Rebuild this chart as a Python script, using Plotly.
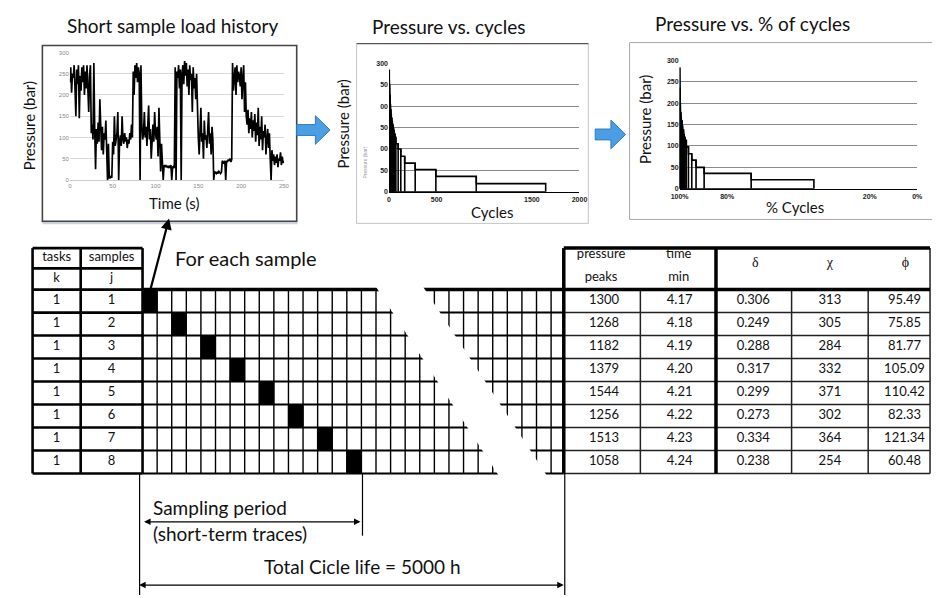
import plotly.graph_objects as go

W, H = 940, 598
FONT = "Lato"

# ---------------- data ----------------
# Short sample load history: pressure (bar) sampled once per second, 0..250 s
load_time_s = list(range(251))
load_pressure_bar = [
    230, 265, 205, 250, 240, 270, 215, 150, 260, 225,
    270, 145, 245, 210, 265, 230, 270, 200, 255, 215,
    270, 225, 160, 245, 270, 110, 130, 95, 275, 120,
    25, 120, 85, 135, 90, 190, 100, 70, 125, 60,
    110, 95, 140, 40, 0, 85, 5, 5, 8, 5,
    90, 60, 150, 80, 95, 110, 160, 0, 90, 105,
    80, 150, 95, 85, 110, 90, 100, 75, 95, 85,
    110, 95, 130, 100, 255, 200, 270, 240, 275, 230,
    265, 250, 0, 270, 130, 95, 110, 160, 100, 125,
    80, 115, 175, 95, 120, 50, 105, 130, 90, 160,
    110, 95, 125, 55, 170, 100, 20, 85, 10, 0,
    35, 30, 35, 30, 33, 28, 32, 30, 35, 0,
    30, 32, 28, 265, 0, 255, 240, 270, 215, 260,
    0, 250, 270, 225, 280, 245, 275, 220, 260, 200,
    270, 235, 250, 160, 265, 215, 240, 190, 250, 130,
    100, 60, 125, 170, 90, 110, 50, 140, 95, 105,
    75, 120, 160, 85, 110, 60, 125, 95, 0, 20,
    18, 15, 18, 15, 20, 18, 15, 18, 45, 42,
    40, 45, 0, 45, 42, 48, 45, 50, 42, 48,
    275, 210, 250, 265, 200, 270, 230, 255, 245, 220,
    265, 190, 240, 270, 160, 230, 150, 130, 165, 110,
    145, 120, 160, 100, 140, 115, 155, 90, 135, 105,
    170, 80, 125, 95, 150, 70, 115, 100, 130, 60,
    95, 120, 75, 110, 50, 0, 70, 45, 60, 35,
    55, 40, 60, 30, 50, 45, 65, 35, 55, 40,
    45,
]

# Pressure vs. cycles (cumulative cycle count reached at each pressure level)
cycles_count = [3, 7, 11, 15, 19, 24, 29, 35, 41, 48, 55, 63, 72, 96, 124, 165, 275, 492, 916, 1645]
cycles_pressure = [285, 250, 225, 205, 192, 182, 172, 165, 157, 150, 143, 135, 127, 112, 100, 83, 67, 52, 36, 19]

# Pressure vs. % of cycles
pct_cycles = [99.95, 99.85, 99.7, 99.5, 99.3, 99.0, 98.75, 98.4, 98.1, 97.7, 97.2, 96.3, 94.9, 93.1, 89.7, 69.9, 43.5]
pct_pressure = [283, 236, 201, 178, 165, 159, 148, 138, 128, 120, 113, 98, 82, 67, 50, 36, 21]

# Sample table
tasks_k = [1, 1, 1, 1, 1, 1, 1, 1]
samples_j = [1, 2, 3, 4, 5, 6, 7, 8]
pressure_peaks = [1300, 1268, 1182, 1379, 1544, 1256, 1513, 1058]
time_min = ["4.17", "4.18", "4.19", "4.20", "4.21", "4.22", "4.23", "4.24"]
delta_vals = ["0.306", "0.249", "0.288", "0.317", "0.299", "0.273", "0.334", "0.238"]
chi_vals = [313, 305, 284, 332, 371, 302, 364, 254]
phi_vals = ["95.49", "75.85", "81.77", "105.09", "110.42", "82.33", "121.34", "60.48"]

cycle_ticks = [0, 500, 1500, 2000]
pct_ticks = [100, 80, 20, 0]
pct_tick_text = ["100%", "80%", "20%", "0%"]
p_ticks = [0, 50, 100, 150, 200, 250, 300]
p_tick_text_mid = ["0", "50", "00", "50", "00", "50", "300"]


def staircase(xs, ps, base):
    """Outline of nested rectangles [base, x_i] x [0, p_i] with their inner edges."""
    X = [base, base, xs[0]]
    Y = [0, ps[0], ps[0]]
    for i in range(1, len(xs)):
        X += [xs[i - 1], xs[i]]
        Y += [ps[i], ps[i]]
    X += [xs[-1], base, None]
    Y += [0, 0, None]
    for x, p in zip(xs[:-1], ps[:-1]):
        X += [x, x, None]
        Y += [0, p, None]
    return X, Y


def segs(lines):
    X, Y = [], []
    for (x0, y0, x1, y1) in lines:
        X += [x0, x1, None]
        Y += [y0, y1, None]
    return X, Y


fig = go.Figure()

# ---------------- diagram layer (pixel-like axis) ----------------
GX0, GW, NCOL, GX1 = 136, 14.86, 28, 565
GY0, RH, NROW = 289, 23.25, 8
col_x = [GX0 + k * GW for k in range(NCOL + 1)]
row_y = [GY0 + r * RH for r in range(NROW + 1)]
row_c = [GY0 + (r + 0.5) * RH for r in range(NROW)]

# black cells marking each sample along the life time
bx, by = [], []
for j in samples_j:
    c = 2 * (j - 1)
    x0, x1 = col_x[c], col_x[c + 1]
    y0, y1 = row_y[j - 1], row_y[j]
    bx += [x0, x1, x1, x0, x0, None]
    by += [y0, y0, y1, y1, y0, None]
fig.add_trace(go.Scatter(x=bx, y=by, mode="lines", fill="toself", fillcolor="black",
                         line=dict(color="black", width=1), hoverinfo="skip"))

vx, vy = segs([(col_x[k], GY0, col_x[k], row_y[-1]) for k in range(1, NCOL + 1)])
fig.add_trace(go.Scatter(x=vx, y=vy, mode="lines", line=dict(color="black", width=1.4), hoverinfo="skip"))
hx, hy = segs([(GX0, row_y[r], GX1, row_y[r]) for r in range(1, NROW + 1)])
fig.add_trace(go.Scatter(x=hx, y=hy, mode="lines", line=dict(color="black", width=2), hoverinfo="skip"))
tx, ty = segs([(GX0, GY0, GX1, GY0)])
fig.add_trace(go.Scatter(x=tx, y=ty, mode="lines", line=dict(color="black", width=3.5), hoverinfo="skip"))

# diagonal break in the time axis
fig.add_trace(go.Scatter(x=[373, 421, 549, 500, 373], y=[285, 285, 479, 479, 285], mode="lines",
                         fill="toself", fillcolor="white", line=dict(color="white", width=0),
                         hoverinfo="skip"))

# left table (tasks / samples)
lt_h = [247, 267.5] + row_y
lx, ly = segs([(24, y, GX0, y) for y in lt_h] + [(x, 247, x, row_y[-1]) for x in (24, 73, GX0)])
fig.add_trace(go.Scatter(x=lx, y=ly, mode="lines", line=dict(color="black", width=2.6), hoverinfo="skip"))

# right table
RT = [GX1, 643, 720, 797, 875, 938]
rx, ry = segs([(GX1, y, RT[-1], y) for y in row_y[1:]] +
              [(x, GY0, x, row_y[-1]) for x in (643, 797, 875)] +
              [(RT[-1], 247, RT[-1], row_y[-1])])
fig.add_trace(go.Scatter(x=rx, y=ry, mode="lines", line=dict(color="#222", width=1.5), hoverinfo="skip"))
kx, ky = segs([(GX1, 247, RT[-1], 247), (GX1, GY0, RT[-1], GY0), (720, 247, 720, row_y[-1]),
               (GX1, 247, GX1, row_y[-1])])
fig.add_trace(go.Scatter(x=kx, y=ky, mode="lines", line=dict(color="black", width=3.5), hoverinfo="skip"))

# dimension lines below the grid
dx, dy = segs([(133, row_y[-1], 133, 598), (360, row_y[-1], 360, 538), (566, row_y[-1], 566, 598)])
fig.add_trace(go.Scatter(x=dx, y=dy, mode="lines", line=dict(color="black", width=1.2), hoverinfo="skip"))

# table text
tf = dict(family=FONT, size=13, color="#111")
fig.add_trace(go.Scatter(x=[48.5] * 8, y=row_c, text=[str(v) for v in tasks_k], mode="text",
                         textfont=tf, hoverinfo="skip"))
fig.add_trace(go.Scatter(x=[104.5] * 8, y=row_c, text=[str(v) for v in samples_j], mode="text",
                         textfont=tf, hoverinfo="skip"))
fig.add_trace(go.Scatter(x=[48.5, 104.5, 48.5, 104.5], y=[257, 257, 278, 278],
                         text=["tasks", "samples", "k", "j"], mode="text", textfont=tf, hoverinfo="skip"))
fig.add_trace(go.Scatter(x=[606] * 8, y=row_c, text=[str(v) for v in pressure_peaks], mode="text",
                         textfont=tf, hoverinfo="skip"))
fig.add_trace(go.Scatter(x=[683] * 8, y=row_c, text=time_min, mode="text", textfont=tf, hoverinfo="skip"))
fig.add_trace(go.Scatter(x=[758] * 8, y=row_c, text=delta_vals, mode="text", textfont=tf, hoverinfo="skip"))
fig.add_trace(go.Scatter(x=[836] * 8, y=row_c, text=[str(v) for v in chi_vals], mode="text",
                         textfont=tf, hoverinfo="skip"))
fig.add_trace(go.Scatter(x=[912] * 8, y=row_c, text=phi_vals, mode="text", textfont=tf, hoverinfo="skip"))
fig.add_trace(go.Scatter(x=[603, 603, 682, 682], y=[254, 277, 254, 277],
                         text=["pressure", "peaks", "time", "min"], mode="text", textfont=tf, hoverinfo="skip"))
fig.add_trace(go.Scatter(x=[760, 836, 913], y=[263, 263, 263], text=["δ", "χ", "ϕ"], mode="text",
                         textfont=dict(family="Liberation Serif", size=14, color="#111"), hoverinfo="skip"))

# ---------------- inset charts ----------------
fig.add_trace(go.Scatter(x=load_time_s, y=load_pressure_bar, mode="lines",
                         line=dict(color="black", width=1.7), xaxis="x2", yaxis="y2", hoverinfo="skip"))
cx, cy = staircase(cycles_count, cycles_pressure, 0)
fig.add_trace(go.Scatter(x=cx, y=cy, mode="lines", line=dict(color="black", width=1.6),
                         xaxis="x3", yaxis="y3", hoverinfo="skip"))
qx, qy = staircase(pct_cycles, pct_pressure, 100)
fig.add_trace(go.Scatter(x=qx, y=qy, mode="lines", line=dict(color="black", width=1.6),
                         xaxis="x4", yaxis="y4", hoverinfo="skip"))


def dom_x(a, b):
    return [a / W, b / W]


def dom_y(top, bottom):
    return [1 - bottom / H, 1 - top / H]


small_gray = dict(family="Liberation Sans", size=6, color="#888")
small_bold = dict(family="Liberation Sans", size=7, color="#222", weight="bold")

fig.update_layout(
    width=W, height=H, autosize=False,
    margin=dict(l=0, r=0, t=0, b=0, pad=0),
    paper_bgcolor="white", plot_bgcolor="rgba(0,0,0,0)",
    showlegend=False,
    xaxis=dict(domain=[0, 1], range=[0, W], visible=False, fixedrange=True),
    yaxis=dict(domain=[0, 1], range=[H, 0], visible=False, fixedrange=True),
    xaxis2=dict(domain=dom_x(62, 280), range=[0, 250], anchor="y2", tickvals=[0, 50, 100, 150, 200, 250],
                tickfont=small_gray, showgrid=False, zeroline=False, showline=True, linecolor="#ccc",
                ticks="", fixedrange=True),
    yaxis2=dict(domain=dom_y(49, 178), range=[0, 300], anchor="x2", tickvals=p_ticks,
                tickfont=small_gray, showgrid=True, gridcolor="#d8d8d8", zeroline=False,
                ticks="", fixedrange=True),
    xaxis3=dict(domain=dom_x(387, 581), range=[0, 2000], anchor="y3", tickvals=cycle_ticks,
                tickfont=small_bold, showgrid=False, zeroline=False, showline=True, linecolor="black",
                linewidth=1.5, ticks="", fixedrange=True),
    yaxis3=dict(domain=dom_y(60, 190), range=[0, 300], anchor="x3", tickvals=p_ticks,
                ticktext=p_tick_text_mid, tickfont=small_bold, showgrid=True, gridcolor="#8a8a8a",
                gridwidth=1, zeroline=False, ticks="", fixedrange=True),
    xaxis4=dict(domain=dom_x(683, 925), range=[100, 0], anchor="y4", tickvals=pct_ticks,
                ticktext=pct_tick_text, tickfont=small_bold, showgrid=False, zeroline=False,
                showline=True, linecolor="black", linewidth=1.5, ticks="", fixedrange=True),
    yaxis4=dict(domain=dom_y(57, 187), range=[0, 300], anchor="x4", tickvals=p_ticks,
                tickfont=small_bold, showgrid=True, gridcolor="#8a8a8a", gridwidth=1,
                zeroline=False, ticks="", fixedrange=True),
)

# chart frames
shapes = [
    dict(type="rect", xref="x", yref="y", x0=34, y0=42, x1=293, y1=220, line=dict(color="#444", width=1.6),
         layer="below"),
    dict(type="line", xref="x", yref="y", x0=34, y0=222, x1=294, y1=222, line=dict(color="#c8d4e6", width=1.5),
         layer="below"),
    dict(type="rect", xref="x", yref="y", x0=354, y0=40, x1=590, y1=222, line=dict(color="#c4c4c4", width=1),
         layer="below"),
    dict(type="line", xref="x", yref="y", x0=354, y0=40, x1=590, y1=40, line=dict(color="#555", width=1.2),
         layer="below"),
    dict(type="rect", xref="x", yref="y", x0=632, y0=39, x1=948, y1=218, line=dict(color="#a8a8a8", width=1),
         layer="below"),
]
# blue process arrows
for (x0, xm, x1, yc) in [(293, 312, 327, 127.5), (597, 613, 628, 132)]:
    path = (f"M {x0} {yc - 5.5} L {xm} {yc - 5.5} L {xm} {yc - 14.5} L {x1} {yc} "
            f"L {xm} {yc + 14.5} L {xm} {yc + 5.5} L {x0} {yc + 5.5} Z")
    shapes.append(dict(type="path", xref="x", yref="y", path=path, fillcolor="#4b9de4",
                       line=dict(color="#2f7cc4", width=1)))
fig.update_layout(shapes=shapes)

ann = []


def label(text, x, y, size=19, angle=0, color="#111", family=FONT, xanchor="center"):
    ann.append(dict(text=text, x=x, y=y, xref="x", yref="y", showarrow=False, textangle=angle,
                    xanchor=xanchor, yanchor="middle", font=dict(family=family, size=size, color=color)))


label("Short sample load history", 167, 22, 19)
label("Pressure vs. cycles", 448, 23, 19)
label("Pressure vs. % of cycles", 757, 20, 19)
label("Pressure (bar)", 20, 123, 15, angle=-90)
label("Time (s)", 168, 201, 15)
label("Pressure (bar)", 340, 121, 15, angle=-90)
label("Cycles", 492, 210, 15)
label("Pressure (bar)", 647, 117, 15, angle=-90)
label("% Cycles", 800, 205, 15)
label("Pressure (bar)", 363, 160, 5, angle=-90, color="#999", family="Liberation Sans")
label("For each sample", 167, 257, 20, xanchor="left")
label("Sampling period", 145, 509, 19, xanchor="left")
label("(short-term traces)", 145, 536, 19, xanchor="left")
label("Total Cicle life = 5000 h", 360, 569, 19)


def arrow(x, y, ax, ay, width=1.3, both=False, head=2, size=1.0):
    ann.append(dict(text="", x=x, y=y, ax=ax, ay=ay, xref="x", yref="y", axref="x", ayref="y",
                    showarrow=True, arrowhead=head, arrowsize=size, arrowwidth=width, arrowcolor="black",
                    startarrowhead=head, startarrowsize=size,
                    arrowside="end+start" if both else "end"))


arrow(163, 217, 144, 289, width=2.2, size=1.0)
arrow(358, 524, 136, 524, both=True)
arrow(565, 588, 131, 588, both=True)
fig.update_layout(annotations=ann)

fig.write_html("out.html", config={"displayModeBar": False, "staticPlot": True})
